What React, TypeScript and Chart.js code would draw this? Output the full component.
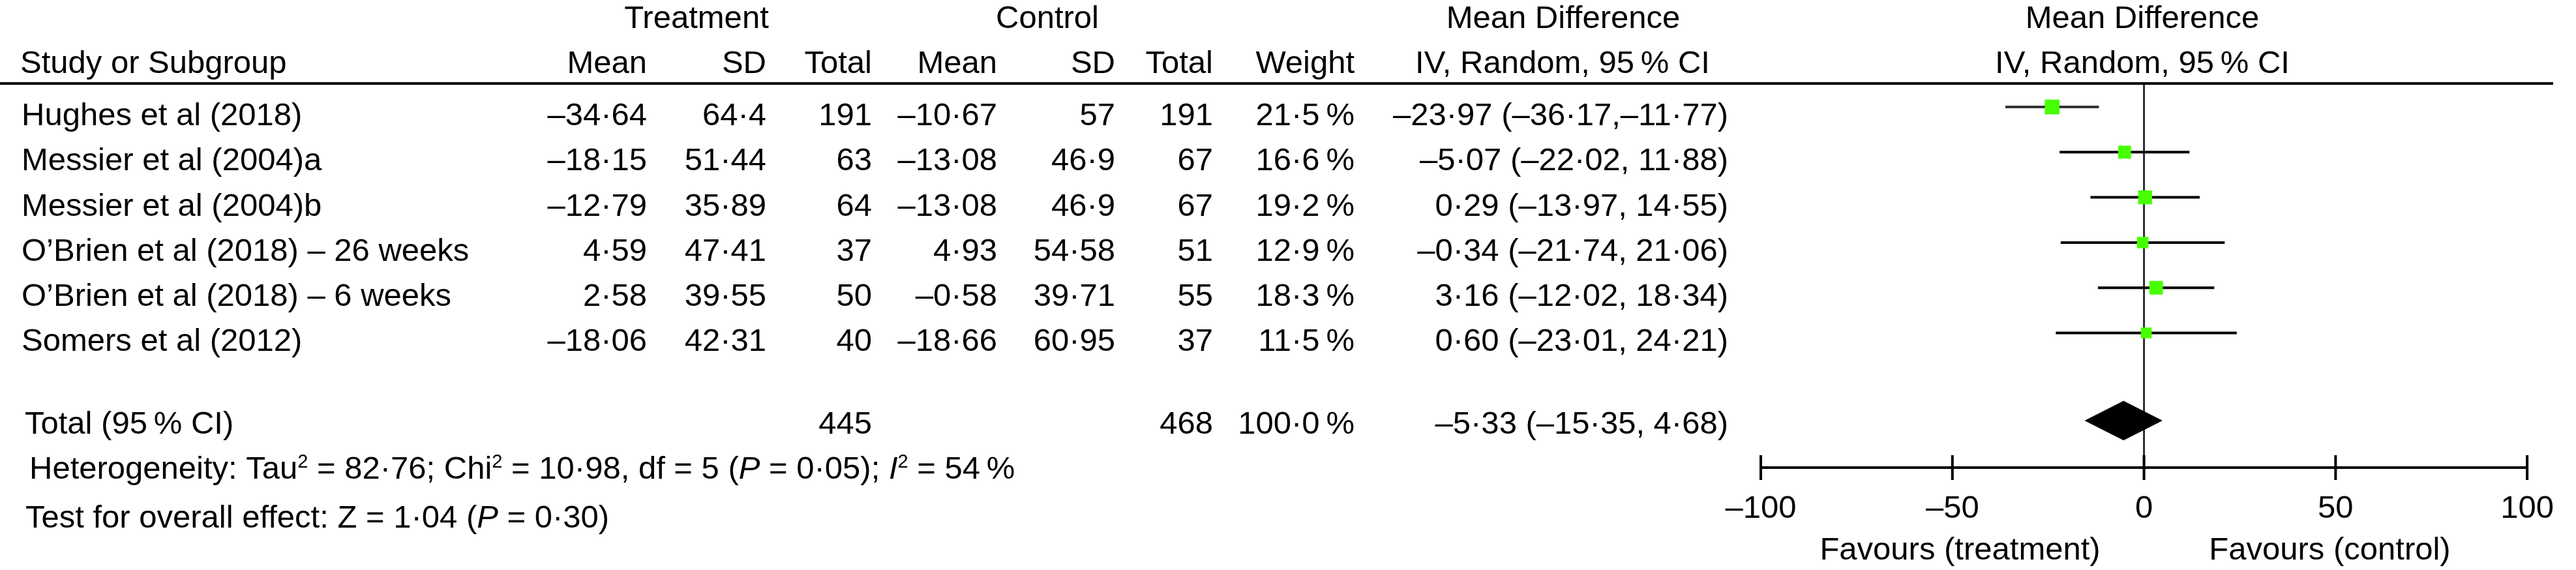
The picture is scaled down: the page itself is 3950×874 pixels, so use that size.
import React, { useEffect, useRef } from "react";
import { Chart, registerables } from "chart.js";

Chart.register(...registerables);

// ---------------- data ----------------
const studies = [
  "Hughes et al (2018)",
  "Messier et al (2004)a",
  "Messier et al (2004)b",
  "O\u2019Brien et al (2018) \u2013 26 weeks",
  "O\u2019Brien et al (2018) \u2013 6 weeks",
  "Somers et al (2012)",
];
const treatMean = [-34.64, -18.15, -12.79, 4.59, 2.58, -18.06];
const treatSD = [64.4, 51.44, 35.89, 47.41, 39.55, 42.31];
const treatN = [191, 63, 64, 37, 50, 40];
const ctrlMean = [-10.67, -13.08, -13.08, 4.93, -0.58, -18.66];
const ctrlSD = [57, 46.9, 46.9, 54.58, 39.71, 60.95];
const ctrlN = [191, 67, 67, 51, 55, 37];
const weights = [21.5, 16.6, 19.2, 12.9, 18.3, 11.5];
const meanDiff = [-23.97, -5.07, 0.29, -0.34, 3.16, 0.6];
const ciLow = [-36.17, -22.02, -13.97, -21.74, -12.02, -23.01];
const ciHigh = [-11.77, 11.88, 14.55, 21.06, 18.34, 24.21];

const totalLabel = "Total (95\u2009% CI)";
const totalTreatN = 445;
const totalCtrlN = 468;
const totalWeight = 100.0;
const totalMD = -5.33;
const totalLow = -15.35;
const totalHigh = 4.68;

const xTicks = [-100, -50, 0, 50, 100];
const groupHeaders = ["Treatment", "Control", "Mean Difference", "Mean Difference"];
const columnHeaders = [
  "Study or Subgroup", "Mean", "SD", "Total", "Mean", "SD", "Total", "Weight",
  "IV, Random, 95\u2009% CI", "IV, Random, 95\u2009% CI",
];
const favoursLabels = ["Favours (treatment)", "Favours (control)"];
const heteroSegs: [string, string][] = [
  ["Heterogeneity: Tau", ""], ["2", "sup"], [" = 82\u00b776; Chi", ""], ["2", "sup"],
  [" = 10\u00b798, df = 5 (", ""], ["P", "it"], [" = 0\u00b705); ", ""], ["I", "it"], ["2", "sup"],
  [" = 54\u2009%", ""],
];
const testSegs: [string, string][] = [
  ["Test for overall effect: Z = 1\u00b704 (", ""], ["P", "it"], [" = 0\u00b730)", ""],
];

// ---------------- layout / style ----------------
const W = 3950;
const H = 874;
const FONT = '"Liberation Sans", Arial, Helvetica, sans-serif';
const FS = 49;
const SUP = 29;
const TOTAL_ROW = 6.94;

const fmt = (s: string) => s.replace(/-/g, "\u2013").replace(/\./g, "\u00b7");
const f2 = (v: number) => fmt(v.toFixed(2));
const fs = (v: number) => fmt(String(v));
const ciText = (m: number, lo: number, hi: number) =>
  `${f2(m)} (${f2(lo)},${hi < 0 ? "" : " "}${f2(hi)})`;

function put(ctx: CanvasRenderingContext2D, s: string, x: number, y: number, align: CanvasTextAlign = "left", italic = false, size = FS) {
  ctx.font = `${italic ? "italic " : ""}${size}px ${FONT}`;
  ctx.textAlign = align;
  ctx.fillText(s, x, y);
}

function drawSegs(ctx: CanvasRenderingContext2D, segs: [string, string][], x: number, y: number) {
  let cx = x;
  for (const [t, kind] of segs) {
    const size = kind === "sup" ? SUP : FS;
    ctx.font = `${kind === "it" ? "italic " : ""}${size}px ${FONT}`;
    ctx.textAlign = "left";
    ctx.fillText(t, cx, kind === "sup" ? y - 17 : y);
    cx += ctx.measureText(t).width;
  }
}

const forestPlugin = {
  id: "forestTable",
  beforeDatasetsDraw(chart: any) {
    const ctx: CanvasRenderingContext2D = chart.ctx;
    const xs = chart.scales.x;
    const x0 = xs.getPixelForValue(0);
    ctx.save();
    ctx.strokeStyle = "#2b2f33";
    ctx.lineWidth = 3;
    ctx.beginPath();
    ctx.moveTo(x0, 128);
    ctx.lineTo(x0, chart.chartArea.bottom);
    ctx.stroke();
    ctx.restore();
  },
  afterDraw(chart: any) {
    const ctx: CanvasRenderingContext2D = chart.ctx;
    const xs = chart.scales.x;
    const ys = chart.scales.y;
    const axisY = chart.chartArea.bottom;
    ctx.save();
    ctx.fillStyle = "#000";
    ctx.strokeStyle = "#000";
    ctx.textBaseline = "alphabetic";

    // header line
    ctx.fillRect(0, 126, 3915, 4);

    // axis line + ticks
    ctx.lineWidth = 4;
    ctx.beginPath();
    ctx.moveTo(xs.getPixelForValue(xTicks[0]), axisY);
    ctx.lineTo(xs.getPixelForValue(xTicks[xTicks.length - 1]), axisY);
    for (const t of xTicks) {
      const px = xs.getPixelForValue(t);
      ctx.moveTo(px, axisY - 19);
      ctx.lineTo(px, axisY + 19);
    }
    ctx.stroke();

    // group headers
    const gx = [1068, 1606, 2397, 3285];
    groupHeaders.forEach((g, i) => put(ctx, g, gx[i], 43, "center"));

    // column headers
    const cols = [992, 1175, 1337, 1529, 1710, 1860, 2077];
    put(ctx, columnHeaders[0], 31, 112, "left");
    for (let i = 1; i <= 7; i++) put(ctx, columnHeaders[i], cols[i - 1], 112, "right");
    put(ctx, columnHeaders[8], 2396, 112, "center");
    put(ctx, columnHeaders[9], 3285, 112, "center");

    // study rows
    studies.forEach((s, i) => {
      const by = ys.getPixelForValue(i) + 28;
      put(ctx, s, 33, by, "left");
      put(ctx, f2(treatMean[i]), cols[0], by, "right");
      put(ctx, fs(treatSD[i]), cols[1], by, "right");
      put(ctx, String(treatN[i]), cols[2], by, "right");
      put(ctx, f2(ctrlMean[i]), cols[3], by, "right");
      put(ctx, fs(ctrlSD[i]), cols[4], by, "right");
      put(ctx, String(ctrlN[i]), cols[5], by, "right");
      put(ctx, fmt(weights[i].toFixed(1)) + "\u2009%", cols[6], by, "right");
      put(ctx, ciText(meanDiff[i], ciLow[i], ciHigh[i]), 2650, by, "right");
    });

    // total row
    const ty = ys.getPixelForValue(TOTAL_ROW) + 20;
    put(ctx, totalLabel, 38, ty, "left");
    put(ctx, String(totalTreatN), cols[2], ty, "right");
    put(ctx, String(totalCtrlN), cols[5], ty, "right");
    put(ctx, fmt(totalWeight.toFixed(1)) + "\u2009%", cols[6], ty, "right");
    put(ctx, ciText(totalMD, totalLow, totalHigh), 2650, ty, "right");

    // footnotes
    drawSegs(ctx, heteroSegs, 45, 734);
    drawSegs(ctx, testSegs, 39, 809);

    // favours labels
    put(ctx, favoursLabels[0], xs.getPixelForValue(-48), 858, "center");
    put(ctx, favoursLabels[1], xs.getPixelForValue(48.5), 858, "center");
    ctx.restore();
  },
};

export default function App() {
  const ref = useRef<HTMLCanvasElement>(null);
  useEffect(() => {
    const canvas = ref.current;
    if (!canvas) return;
    const ciSets = studies.map((s, i) => ({
      type: "scatter" as const,
      label: s,
      data: [
        { x: ciLow[i], y: i },
        { x: ciHigh[i], y: i },
      ],
      showLine: true,
      borderColor: i === 0 ? "#2f3535" : "#000",
      borderWidth: 4,
      pointRadius: 0,
      order: 2,
    }));
    const chart = new Chart(canvas, {
      type: "scatter",
      data: {
        datasets: [
          ...ciSets,
          {
            type: "scatter",
            label: "Mean difference",
            data: meanDiff.map((v, i) => ({ x: v, y: i })),
            pointStyle: "rect",
            pointRadius: weights.map((w) => 3.45 * Math.sqrt(w)),
            backgroundColor: "#46ff00",
            borderWidth: 0,
            order: 0,
          },
          {
            type: "scatter",
            label: "Total",
            data: [
              { x: totalLow, y: TOTAL_ROW },
              { x: totalMD, y: TOTAL_ROW - 0.43 },
              { x: totalHigh, y: TOTAL_ROW },
              { x: totalMD, y: TOTAL_ROW + 0.43 },
              { x: totalLow, y: TOTAL_ROW },
            ],
            showLine: true,
            fill: "shape",
            backgroundColor: "#000",
            borderColor: "#000",
            borderWidth: 1,
            pointRadius: 0,
            order: 0,
          },
        ] as any,
      },
      options: {
        responsive: false,
        animation: false,
        devicePixelRatio: 1,
        events: [],
        layout: { padding: { left: 2700, right: 45, top: 0, bottom: 0 }, autoPadding: false },
        plugins: { legend: { display: false }, tooltip: { enabled: false }, title: { display: false } },
        scales: {
          x: {
            type: "linear",
            position: "bottom",
            min: -100,
            max: 100,
            grid: { display: false, drawTicks: false },
            border: { display: false },
            afterBuildTicks: (s: any) => {
              s.ticks = xTicks.map((v) => ({ value: v }));
            },
            afterFit: (s: any) => {
              s.height = 157;
            },
            ticks: {
              padding: 34,
              color: "#000",
              font: { family: FONT, size: FS },
              callback: (v: any) => (Number(v) < 0 ? "\u2013" + Math.abs(Number(v)) : String(v)),
            },
          },
          y: {
            type: "linear",
            display: false,
            reverse: true,
            min: -2.367,
            max: 7.98,
          },
        },
      },
      plugins: [forestPlugin],
    } as any);
    return () => chart.destroy();
  }, []);
  return (
    <div style={{ position: "absolute", left: 0, top: 0, width: W, height: H, background: "#fff" }}>
      <canvas ref={ref} width={W} height={H} style={{ width: W, height: H, display: "block" }} />
    </div>
  );
}
